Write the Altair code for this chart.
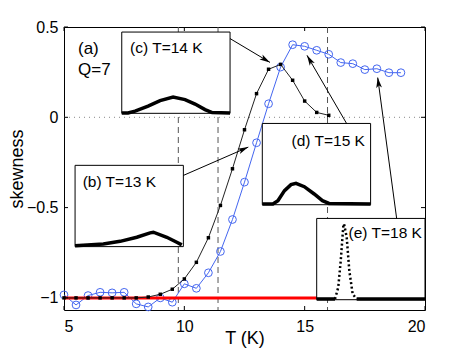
import math
import pandas as pd
import altair as alt

# ---------------- data ----------------
T_black = [5.0, 5.5, 6.0, 6.5, 7.0, 7.5, 8.0, 8.5, 9.0, 9.5, 10.0, 10.5, 11.0,
           11.5, 12.0, 12.5, 13.0, 13.5, 14.0, 14.5, 15.0, 15.5, 16.0]
skew_black = [-1.0, -1.0, -1.0, -1.0, -1.0, -1.0, -1.0, -0.995, -0.98, -0.952, -0.895,
              -0.803, -0.667, -0.488, -0.285, -0.069, 0.131, 0.266, 0.293, 0.205,
              0.090, 0.027, 0.011]

T_blue = [5.0, 5.5, 6.0, 6.5, 7.0, 7.5, 8.0, 8.5, 9.0, 9.5, 10.0, 10.5, 11.0, 11.5,
          12.0, 12.5, 13.0, 13.5, 14.0, 14.5, 15.0, 15.5, 16.0, 16.5, 17.0, 17.5,
          18.0, 18.5, 19.0]
skew_blue = [-0.983, -1.039, -0.987, -0.969, -0.972, -0.969, -1.033, -1.050, -1.0,
             -1.024, -0.922, -0.947, -0.861, -0.743, -0.566, -0.359, -0.141, 0.075,
             0.278, 0.402, 0.393, 0.371, 0.349, 0.303, 0.297, 0.264, 0.269, 0.247, 0.247]

T_ref = [5.0, 20.0]
skew_ref = [-1.0, -1.0]

T_dashed = [9.75, 11.4, 15.95]
x_ticks = [5, 10, 15, 20]
y_ticks = [-1, -0.5, 0, 0.5]

# inset distributions (normalised: u = fraction of inset width, v = fraction of height)
b_u = [0.0, 0.261, 0.416, 0.570, 0.693, 0.723, 0.847, 0.939, 0.985]
b_v = [0.012, 0.033, 0.065, 0.115, 0.169, 0.177, 0.115, 0.053, 0.021]
c_u = [0.0, 0.058, 0.123, 0.243, 0.354, 0.474, 0.584, 0.677, 0.769, 0.834, 1.0]
c_v = [0.005, 0.005, 0.027, 0.089, 0.156, 0.200, 0.169, 0.114, 0.046, 0.009, 0.005]
d_u = [0.0, 0.098, 0.144, 0.205, 0.265, 0.311, 0.388, 0.479, 0.555, 0.616, 1.0]
d_v = [0.009, 0.009, 0.049, 0.173, 0.247, 0.263, 0.222, 0.132, 0.049, 0.016, 0.009]
e_base_u = [0.0, 0.169, 0.369, 1.0]
e_base_v = [0.009, 0.009, 0.009, 0.009]
e_peak_u = [0.169, 0.199, 0.222, 0.246, 0.252, 0.277, 0.301, 0.332, 0.369]
e_peak_v = [0.009, 0.152, 0.481, 0.914, 0.935, 0.769, 0.358, 0.070, 0.009]

inset_names = ["b", "c", "d", "e"]
inset_texts = ["(b) T=13 K", "(c) T=14 K", "(d) T=15 K", "(e) T=18 K"]

# ---------------- layout ----------------
W, H = 361, 283
XDOM = [5, 20]
YDOM = [-1.067, 0.5]
PX_T = W / (XDOM[1] - XDOM[0])
PX_S = H / (YDOM[1] - YDOM[0])

INSET_W, INSET_H = 4.5, 0.45
INSET_POS = {"b": (5.46, -0.716), "c": (7.40, 0.022), "d": (13.24, -0.484), "e": (15.5, -1.01)}
LABEL_POS = {"b": (0.07, 0.79, "left"), "c": (0.077, 0.80, "left"),
             "d": (0.948, 0.79, "right"), "e": (0.972, 0.82, "right")}
ARROWS = [((11.898, 0.436), (13.559, 0.304)),
          ((9.957, -0.322), (12.658, -0.165)),
          ((16.746, -0.035), (15.097, 0.343)),
          ((18.824, -0.562), (18.035, 0.220))]

FONT = "Liberation Sans"
BLUE = "#4466f0"

xscale = alt.Scale(domain=XDOM, nice=False, zero=False)
yscale = alt.Scale(domain=YDOM, nice=False, zero=False)
xaxis = alt.Axis(values=x_ticks, title="T (K)", ticks=False, domain=False, grid=False,
                 labelPadding=8, labelFontSize=16, titleFontSize=18,
                 titleBaseline="alphabetic", titleY=33.5,
                 labelFont=FONT, titleFont=FONT, titleFontWeight="normal", labelColor="black",
                 titleColor="black")
yaxis = alt.Axis(values=y_ticks, title="skewness", ticks=False, domain=False, grid=False,
                 format="~g", labelPadding=6, labelFontSize=16,
                 titleFontSize=18, titleAngle=270, titleBaseline="alphabetic",
                 titleX=-42, titleY=H / 2, titleAlign="center",
                 labelFont=FONT, titleFont=FONT, titleFontWeight="normal",
                 labelColor="black", titleColor="black")


def X(f):
    return alt.X(f, type="quantitative", scale=xscale, axis=xaxis)


def Y(f):
    return alt.Y(f, type="quantitative", scale=yscale, axis=yaxis)


black_df = pd.DataFrame({"T": T_black, "s": skew_black})
blue_df = pd.DataFrame({"T": T_blue, "s": skew_blue})
ref_df = pd.DataFrame({"T": T_ref, "s": skew_ref})
dash_df = pd.DataFrame({"T": T_dashed})
xt_df = pd.DataFrame({"T": x_ticks})
yt_df = pd.DataFrame({"s": y_ticks})

# insets
rect_rows, curve_rows, peak_rows, label_rows = [], [], [], []
curves = {"b": (b_u, b_v), "c": (c_u, c_v), "d": (d_u, d_v), "e": (e_base_u, e_base_v)}
for name, text in zip(inset_names, inset_texts):
    T0, s0 = INSET_POS[name]
    rect_rows.append({"T": T0, "T2": T0 + INSET_W, "s": s0, "s2": s0 + INSET_H})
    us, vs = curves[name]
    for i, (u, v) in enumerate(zip(us, vs)):
        grp = name
        if name == "e":
            grp = "e1" if i < 2 else "e2"
        curve_rows.append({"T": T0 + u * INSET_W, "s": s0 + v * INSET_H, "g": grp, "o": i})
    lu, lv, al = LABEL_POS[name]
    label_rows.append({"T": T0 + lu * INSET_W, "s": s0 + lv * INSET_H, "text": text, "al": al})
T0e, s0e = INSET_POS["e"]
for i, (u, v) in enumerate(zip(e_peak_u, e_peak_v)):
    peak_rows.append({"T": T0e + u * INSET_W, "s": s0e + v * INSET_H, "o": i})

rect_df = pd.DataFrame(rect_rows)
curve_df = pd.DataFrame(curve_rows)
peak_df = pd.DataFrame(peak_rows)
label_df = pd.DataFrame(label_rows)

arrow_lines = pd.DataFrame([{"T": a[0], "s": a[1], "T2": b[0], "s2": b[1]} for a, b in ARROWS])
heads = []
for a, b in ARROWS:
    dx = (b[0] - a[0]) * PX_T
    dy = -(b[1] - a[1]) * PX_S
    ang = math.degrees(math.atan2(dx, -dy)) % 360
    heads.append({"T": b[0], "s": b[1], "ang": ang})
head_df = pd.DataFrame(heads)

ARROW_PATH = "M0,0L0.55,2L0,1.5L-0.55,2Z"

layers = []
layers.append(alt.Chart(dash_df).mark_rule(color="#555555", strokeWidth=1, strokeDash=[6, 4])
              .encode(x=X("T")))
layers.append(alt.Chart(pd.DataFrame({"s": [0.0]})).mark_rule(color="#888888", strokeWidth=1,
                                                              strokeDash=[1, 4])
              .encode(y=Y("s")))
layers.append(alt.Chart(blue_df).mark_line(color=BLUE, strokeWidth=1).encode(x=X("T"), y=Y("s")))
layers.append(alt.Chart(blue_df).mark_point(shape="circle", filled=False, color=BLUE, size=60,
                                            strokeWidth=1, opacity=1)
              .encode(x=X("T"), y=Y("s")))
layers.append(alt.Chart(ref_df).mark_line(color="#ff0000", strokeWidth=3).encode(x=X("T"), y=Y("s")))
layers.append(alt.Chart(black_df).mark_line(color="#222222", strokeWidth=1).encode(x=X("T"), y=Y("s")))
layers.append(alt.Chart(black_df).mark_point(shape="square", filled=True, color="black", size=12,
                                             opacity=1)
              .encode(x=X("T"), y=Y("s")))
# inward ticks
layers.append(alt.Chart(xt_df).mark_rule(color="black", strokeWidth=1)
              .encode(x=X("T"), y=alt.value(H), y2=alt.value(H - 4)))
layers.append(alt.Chart(xt_df).mark_rule(color="black", strokeWidth=1)
              .encode(x=X("T"), y=alt.value(0), y2=alt.value(4)))
layers.append(alt.Chart(yt_df).mark_rule(color="black", strokeWidth=1)
              .encode(y=Y("s"), x=alt.value(0), x2=alt.value(4)))
layers.append(alt.Chart(yt_df).mark_rule(color="black", strokeWidth=1)
              .encode(y=Y("s"), x=alt.value(W), x2=alt.value(W - 4)))
# insets
layers.append(alt.Chart(rect_df).mark_rect(fill="white", stroke="black", strokeWidth=1)
              .encode(x=X("T"), x2="T2", y=Y("s"), y2="s2"))
layers.append(alt.Chart(curve_df).mark_line(color="black", strokeWidth=3.5)
              .encode(x=X("T"), y=Y("s"), detail="g:N", order="o:Q"))
layers.append(alt.Chart(peak_df).mark_line(color="black", strokeWidth=2.5, strokeDash=[2, 2.5])
              .encode(x=X("T"), y=Y("s"), order="o:Q"))
for al in ["left", "right"]:
    layers.append(alt.Chart(label_df[label_df["al"] == al]).mark_text(
        align=al, baseline="middle", font=FONT, fontSize=15.5, color="black")
        .encode(x=X("T"), y=Y("s"), text="text:N"))
# arrows
layers.append(alt.Chart(arrow_lines).mark_rule(color="black", strokeWidth=1)
              .encode(x=X("T"), y=Y("s"), x2="T2", y2="s2"))
layers.append(alt.Chart(head_df).mark_point(shape=ARROW_PATH, filled=True, color="black",
                                            size=110, opacity=1, strokeWidth=0)
              .encode(x=X("T"), y=Y("s"), angle=alt.Angle("ang:Q", scale=None)))
# panel label
layers.append(alt.Chart(pd.DataFrame({"t": ["(a)"]})).mark_text(
    align="left", baseline="middle", font=FONT, fontSize=17, color="black")
    .encode(text="t:N", x=alt.value(14), y=alt.value(22)))
layers.append(alt.Chart(pd.DataFrame({"t": ["Q=7"]})).mark_text(
    align="left", baseline="middle", font=FONT, fontSize=17, color="black")
    .encode(text="t:N", x=alt.value(14), y=alt.value(43)))

chart = alt.layer(*layers).properties(
    width=W, height=H,
    autosize=alt.AutoSizeParams(type="none"),
    padding={"left": 56, "top": 19, "right": 30, "bottom": 40},
    background="white",
).configure_view(stroke="black", strokeWidth=1)

chart.save("out.html", embed_options={"renderer": "svg", "actions": False})
